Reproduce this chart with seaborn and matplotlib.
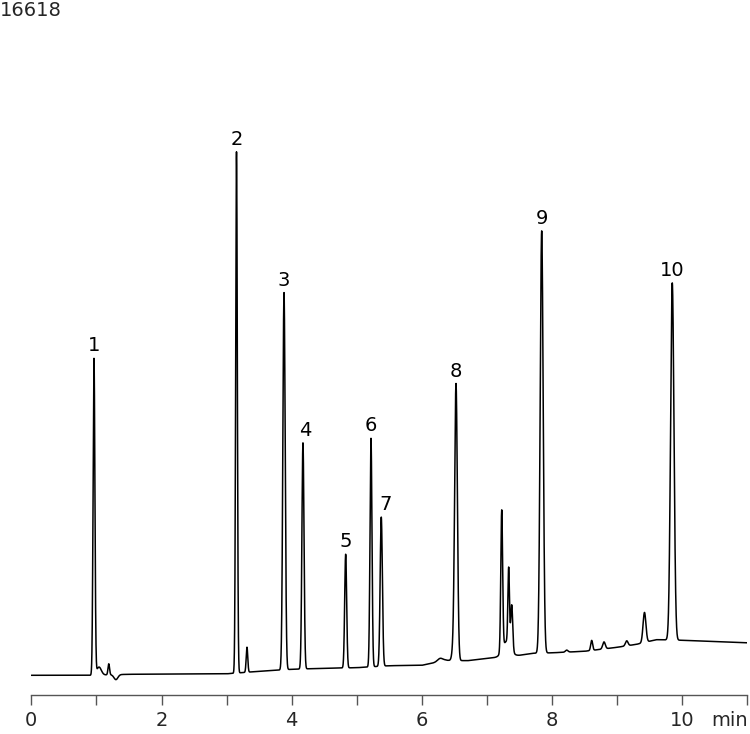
import numpy as np
import pandas as pd
import matplotlib
matplotlib.use("Agg")
import matplotlib.pyplot as plt
import seaborn as sns

# ---- data ----
peak_labels = ["1", "2", "3", "4", "5", "6", "7", "8", "9", "10"]
peak_times = [0.963, 3.152, 3.882, 4.173, 4.829, 5.218, 5.376, 6.524, 7.840, 9.846]
peak_heights = [7900, 13025, 9425, 5650, 2840, 5710, 3725, 6900, 10550, 8925]
peak_sigmas = [0.014, 0.013, 0.018, 0.016, 0.015, 0.015, 0.017, 0.021, 0.023, 0.026]

minor_times = [1.04, 1.19, 1.30, 3.313, 6.28, 6.48, 7.226, 7.30, 7.333, 7.38,
               8.224, 8.608, 8.797, 9.146, 9.419]
minor_heights = [200, 275, -125, 625, 75, 250, 3500, 375, 1900, 1125,
                 50, 250, 175, 125, 750]
minor_sigmas = [0.035, 0.012, 0.03, 0.012, 0.04, 0.02, 0.014, 0.06, 0.012, 0.015,
                0.02, 0.015, 0.02, 0.02, 0.022]

baseline_times = [0.0, 0.9, 1.5, 2.5, 3.0, 3.5, 4.0, 4.5, 5.0, 5.5, 6.0, 6.15,
                  6.35, 6.7, 7.0, 7.5, 7.7, 8.0, 8.5, 9.0, 9.3, 9.6, 10.0, 11.0]
baseline_levels = [0, 0, 25, 37, 37, 100, 150, 175, 190, 240, 250, 300,
                   375, 365, 425, 500, 550, 562, 600, 700, 775, 890, 875, 812]

x_ticks = [0, 2, 4, 6, 8, 10]
x_minor = [1, 3, 5, 7, 9, 11]
full_scale = 16618
x_unit = "min"

# ---- build trace ----
t = np.linspace(0, 11, 11001)
signal = np.interp(t, baseline_times, baseline_levels).astype(float)
for c, h, s in zip(peak_times + minor_times, peak_heights + minor_heights,
                   peak_sigmas + minor_sigmas):
    signal += h * np.exp(-0.5 * ((t - c) / s) ** 2)
df = pd.DataFrame({"time": t, "signal": signal})

sns.set_style("white")
plt.rcParams["font.family"] = ["DejaVu Sans"]

fig = plt.figure(figsize=(7.5, 7.34), dpi=100)
ax = fig.add_axes([31.3 / 750, 1 - 695.3 / 734, (11 * 65.1) / 750, (695.3 - 10.3) / 734])
sns.lineplot(data=df, x="time", y="signal", ax=ax, color="black", linewidth=1.1)

ax.set_xlim(0, 11)
ax.set_ylim(-500, full_scale)
for sp in ["left", "top", "right"]:
    ax.spines[sp].set_visible(False)
ax.spines["bottom"].set_color("#555555")
ax.spines["bottom"].set_linewidth(1.0)
ax.set_yticks([])
ax.set_xticks(x_ticks)
ax.set_xticks(x_minor, minor=True)
ax.set_xticklabels([str(v) for v in x_ticks])
ax.tick_params(axis="x", which="major", direction="out", length=7, width=1.0,
               color="#555555", labelsize=14, pad=4, bottom=True)
ax.tick_params(axis="x", which="minor", direction="out", length=7, width=1.0,
               color="#555555", bottom=True)
ax.set_xlabel("")
ax.set_ylabel("")

# peak labels
for lab, c in zip(peak_labels, peak_times):
    m = (t > c - 0.05) & (t < c + 0.05)
    top = signal[m].max()
    dx = 3 if lab == "7" else (2 if lab == "4" else 0)
    ax.annotate(lab, xy=(c, top), xytext=(dx, 5), textcoords="offset points",
                ha="center", va="baseline", fontsize=14, color="black")

ax.annotate(x_unit, xy=(10.73, 0), xycoords=ax.get_xaxis_transform(),
            xytext=(0, -11), textcoords="offset points",
            ha="center", va="top", fontsize=14)
fig.text(0.0, 1 - 1.5 / 734, str(full_scale), ha="left", va="top", fontsize=14)

fig.savefig("out.png", dpi=100)
